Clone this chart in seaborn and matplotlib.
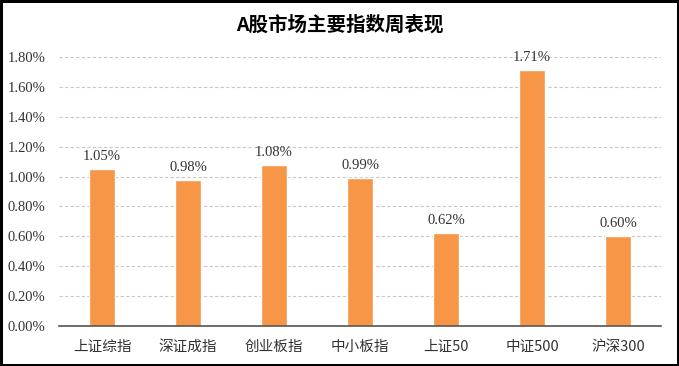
import matplotlib
matplotlib.use("Agg")
import matplotlib.pyplot as plt
import seaborn as sns
import pandas as pd

categories = ["上证综指", "深证成指", "创业板指", "中小板指", "上证50", "中证500", "沪深300"]
values = [1.05, 0.98, 1.08, 0.99, 0.62, 1.71, 0.60]
yticks = [0.0, 0.2, 0.4, 0.6, 0.8, 1.0, 1.2, 1.4, 1.6, 1.8]
title = "A股市场主要指数周表现"

sns.set_theme(style="white")
plt.rcParams['font.family'] = ['Noto Sans CJK SC', 'DejaVu Sans']

df = pd.DataFrame({"cat": categories, "val": values})

fig = plt.figure(figsize=(6.79, 3.66), dpi=100, linewidth=2.5, edgecolor="black")
ax = fig.add_axes([59/679, 40/366, 602/679, 269/366])
sns.barplot(data=df, x="cat", y="val", color="#F79646", saturation=1, width=0.31, ax=ax)

ax.set_ylim(0, 1.8)
ax.set_xlim(-0.5, len(categories) - 0.5)
ax.set_yticks(yticks)
ax.set_yticklabels([f"{t:.2f}%" for t in yticks], family=["Liberation Serif", "DejaVu Serif"], fontsize=10.5, color="#333333")
ax.set_xticks(range(len(categories)))
ax.set_xticklabels(categories, fontsize=10.5, color="#333333")
ax.tick_params(axis="x", length=0, pad=10)
ax.tick_params(axis="y", length=0, pad=10)
ax.set_xlabel("")
ax.set_ylabel("")
ax.yaxis.grid(True, linestyle=(0, (3, 2)), color="#c8c8c8", linewidth=0.8)
ax.set_axisbelow(True)
for s in ["top", "right", "left"]:
    ax.spines[s].set_visible(False)
ax.spines["bottom"].set_color("#555555")
ax.spines["bottom"].set_linewidth(1.2)

for i, v in enumerate(values):
    ax.text(i, v + 0.04, f"{v:.2f}%", ha="center", va="bottom", fontsize=10.5,
            family=["Liberation Serif", "DejaVu Serif"], color="#333333")

fig.text(0.5, 1 - 25/366, title, ha="center", va="center", fontsize=14, fontweight="bold", color="#000000")

fig.savefig("out.png", dpi=100, edgecolor=fig.get_edgecolor())
